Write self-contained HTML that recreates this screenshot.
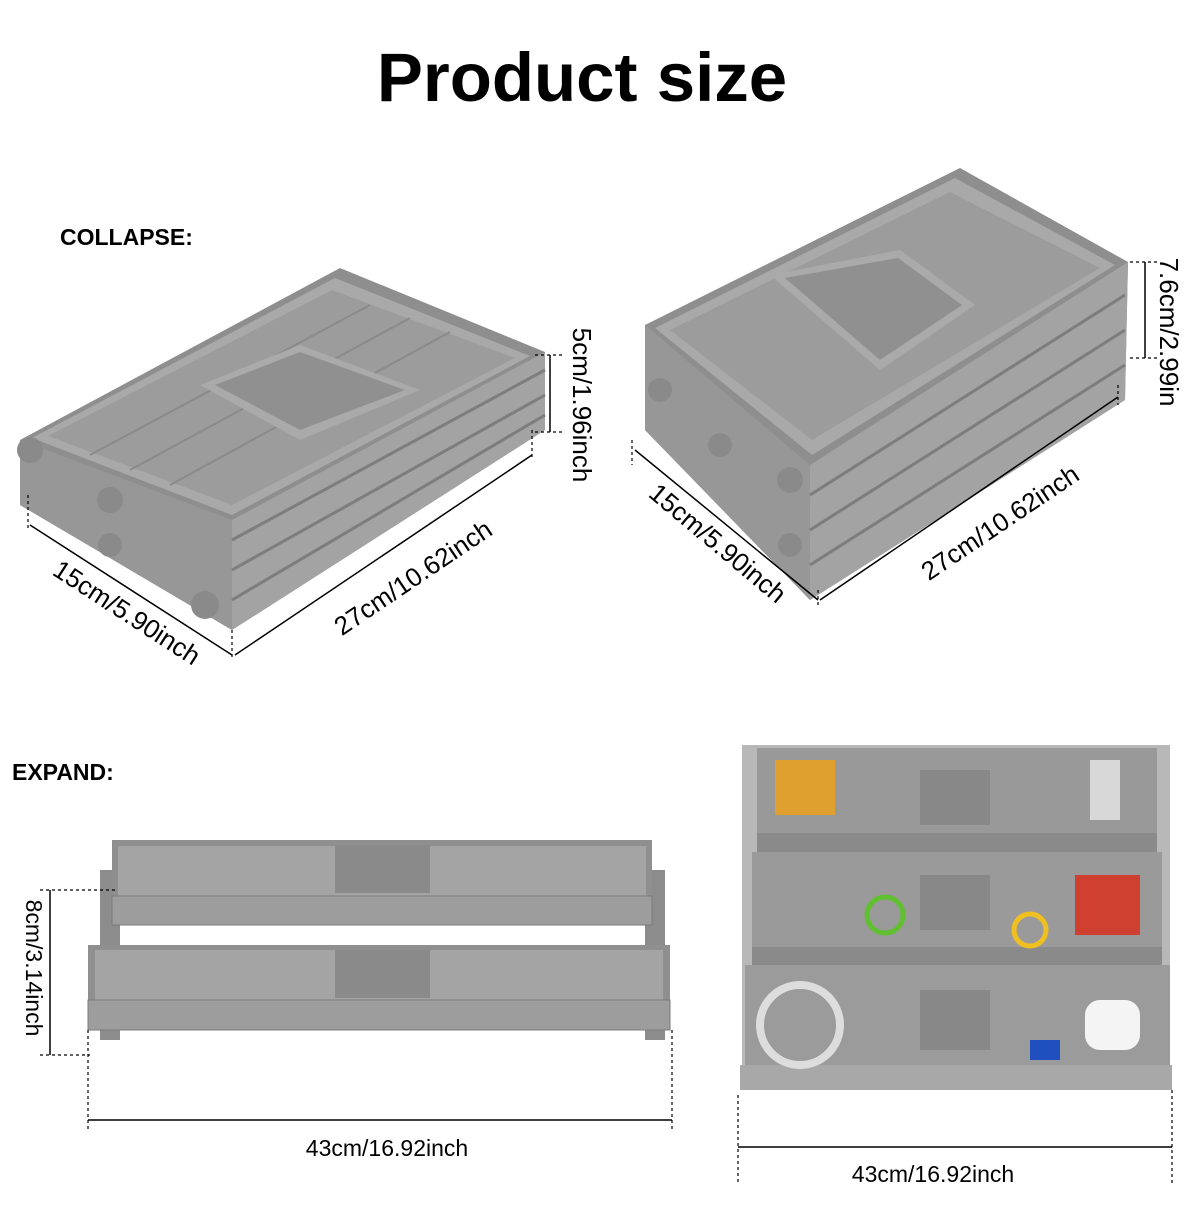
<!DOCTYPE html>
<html><head><meta charset="utf-8"><style>
html,body{margin:0;padding:0;background:#fff;}
body{width:1200px;height:1200px;overflow:hidden;font-family:"Liberation Sans",Arial,sans-serif;}
</style></head><body>
<svg width="1200" height="1200" viewBox="0 0 1200 1200" xmlns="http://www.w3.org/2000/svg" font-family="Liberation Sans, Arial, sans-serif">
<rect width="1200" height="1200" fill="#fff"/>
<text x="582" y="101" font-size="69" font-weight="bold" text-anchor="middle" fill="#000">Product size</text>
<text x="60" y="245" font-size="23" font-weight="bold">COLLAPSE:</text>
<text x="12" y="780" font-size="23" font-weight="bold">EXPAND:</text>

<g>
<polygon points="20,440 340,268 545,352 545,430 232,630 20,505" fill="#8e8e8e"/>
<polygon points="232,520 545,352 545,430 232,630" fill="#a3a3a3"/>
<polygon points="20,440 232,520 232,630 20,505" fill="#979797"/>
<polygon points="32,438 335,278 530,356 232,515" fill="#a9a9a9"/>
<polygon points="48,436 332,290 515,358 232,505" fill="#9c9c9c"/>
<g stroke="#8a8a8a" stroke-width="2"><line x1="90" y1="455" x2="370" y2="305"/><line x1="130" y1="470" x2="410" y2="318"/><line x1="170" y1="485" x2="450" y2="332"/></g>
<polygon points="200,385 300,345 420,390 300,440" fill="#aaaaaa"/>
<polygon points="215,385 300,352 405,390 300,430" fill="#909090"/>
<g stroke="#7d7d7d" stroke-width="3"><line x1="232" y1="540" x2="545" y2="370"/><line x1="232" y1="570" x2="545" y2="395"/><line x1="232" y1="600" x2="545" y2="415"/></g>
<circle cx="30" cy="450" r="13" fill="#8a8a8a"/><circle cx="110" cy="500" r="13" fill="#8a8a8a"/><circle cx="205" cy="605" r="14" fill="#8a8a8a"/><circle cx="110" cy="545" r="12" fill="#8a8a8a"/>
</g>

<g>
<polygon points="645,325 960,168 1128,262 1125,400 810,600 645,430" fill="#8e8e8e"/>
<polygon points="810,465 1128,262 1125,400 810,600" fill="#a3a3a3"/>
<polygon points="645,325 810,465 810,600 645,430" fill="#979797"/>
<polygon points="655,328 955,178 1115,265 812,455" fill="#a9a9a9"/>
<polygon points="670,330 950,192 1100,268 812,440" fill="#9c9c9c"/>
<polygon points="770,275 900,250 975,305 880,370" fill="#aaaaaa"/>
<polygon points="785,278 898,258 962,305 880,360" fill="#909090"/>
<g stroke="#7d7d7d" stroke-width="3"><line x1="810" y1="495" x2="1125" y2="295"/><line x1="810" y1="530" x2="1125" y2="330"/><line x1="810" y1="565" x2="1125" y2="365"/></g>
<circle cx="660" cy="390" r="12" fill="#8a8a8a"/><circle cx="720" cy="445" r="12" fill="#8a8a8a"/><circle cx="790" cy="480" r="13" fill="#8a8a8a"/><circle cx="790" cy="545" r="12" fill="#8a8a8a"/>
</g>

<g stroke="#000" stroke-width="1.5" fill="none">
<line x1="30" y1="525" x2="232" y2="655"/>
<line x1="235" y1="655" x2="532" y2="455"/>
<line x1="550" y1="355" x2="550" y2="432"/>
<line x1="635" y1="450" x2="818" y2="600"/>
<line x1="820" y1="600" x2="1118" y2="397"/>
<line x1="1145" y1="262" x2="1145" y2="358"/>
</g>
<g stroke="#000" stroke-width="1.2" stroke-dasharray="3,3">
<line x1="28" y1="495" x2="28" y2="530"/><line x1="232" y1="630" x2="232" y2="660"/><line x1="532" y1="430" x2="532" y2="460"/>
<line x1="535" y1="355" x2="565" y2="355"/><line x1="535" y1="432" x2="565" y2="432"/>
<line x1="632" y1="440" x2="632" y2="465"/><line x1="818" y1="590" x2="818" y2="605"/><line x1="1118" y1="385" x2="1118" y2="405"/>
<line x1="1130" y1="262" x2="1160" y2="262"/><line x1="1130" y1="358" x2="1160" y2="358"/>
</g>
<g font-size="26" fill="#000" text-anchor="middle">
<text transform="translate(122,620) rotate(33)">15cm/5.90inch</text>
<text transform="translate(418,585) rotate(-34)">27cm/10.62inch</text>
<text transform="translate(573,405) rotate(90)">5cm/1.96inch</text>
<text transform="translate(712,550) rotate(40)">15cm/5.90inch</text>
<text transform="translate(1005,530) rotate(-34)">27cm/10.62inch</text>
<text transform="translate(1160,332) rotate(90)">7.6cm/2.99in</text>
</g>

<g>
<rect x="100" y="870" width="20" height="170" fill="#8c8c8c"/>
<rect x="645" y="870" width="20" height="170" fill="#8c8c8c"/>
<rect x="112" y="840" width="540" height="85" fill="#8f8f8f"/>
<rect x="118" y="846" width="528" height="50" fill="#a4a4a4"/>
<rect x="112" y="896" width="540" height="29" fill="#9d9d9d" stroke="#7a7a7a"/>
<rect x="335" y="845" width="95" height="48" fill="#8a8a8a"/>
<rect x="88" y="945" width="582" height="85" fill="#8f8f8f"/>
<rect x="95" y="950" width="568" height="50" fill="#a4a4a4"/>
<rect x="88" y="1000" width="582" height="30" fill="#9d9d9d" stroke="#7a7a7a"/>
<rect x="335" y="950" width="95" height="48" fill="#8a8a8a"/>
</g>
<g stroke="#000" stroke-width="1.2" stroke-dasharray="3,3">
<line x1="40" y1="890" x2="115" y2="890"/><line x1="40" y1="1055" x2="90" y2="1055"/>
<line x1="88" y1="1030" x2="88" y2="1130"/><line x1="672" y1="1030" x2="672" y2="1130"/>
<line x1="738" y1="1095" x2="738" y2="1185"/><line x1="1172" y1="1090" x2="1172" y2="1185"/>
</g>
<g stroke="#000" stroke-width="1.5">
<line x1="50" y1="890" x2="50" y2="1055"/>
<line x1="88" y1="1120" x2="672" y2="1120"/>
<line x1="738" y1="1147" x2="1172" y2="1147"/>
</g>
<g font-size="23" fill="#000" text-anchor="middle">
<text transform="translate(26,968) rotate(90)">8cm/3.14inch</text>
<text x="387" y="1156">43cm/16.92inch</text>
<text x="933" y="1182">43cm/16.92inch</text>
</g>

<g>
<rect x="742" y="745" width="428" height="345" fill="#b8b8b8"/>
<rect x="757" y="748" width="400" height="85" fill="#999"/>
<rect x="757" y="833" width="400" height="20" fill="#8a8a8a"/>
<rect x="752" y="852" width="410" height="95" fill="#9a9a9a"/>
<rect x="752" y="947" width="410" height="20" fill="#8a8a8a"/>
<rect x="745" y="965" width="425" height="100" fill="#9b9b9b"/>
<rect x="740" y="1065" width="432" height="25" fill="#a8a8a8"/>
<rect x="920" y="770" width="70" height="55" fill="#888"/>
<rect x="920" y="875" width="70" height="55" fill="#888"/>
<rect x="920" y="990" width="70" height="60" fill="#888"/>
<rect x="775" y="760" width="60" height="55" fill="#e0a030"/>
<rect x="1075" y="875" width="65" height="60" fill="#d04030"/>
<circle cx="800" cy="1025" r="40" fill="none" stroke="#ddd" stroke-width="8"/>
<rect x="1085" y="1000" width="55" height="50" rx="15" fill="#f4f4f4"/>
<rect x="1030" y="1040" width="30" height="20" fill="#2050c0"/>
<circle cx="885" cy="915" r="18" fill="none" stroke="#60c030" stroke-width="5"/>
<circle cx="1030" cy="930" r="16" fill="none" stroke="#f0c020" stroke-width="5"/>
<rect x="1090" y="760" width="30" height="60" fill="#d8d8d8"/>
</g>
</svg>
</body></html>
